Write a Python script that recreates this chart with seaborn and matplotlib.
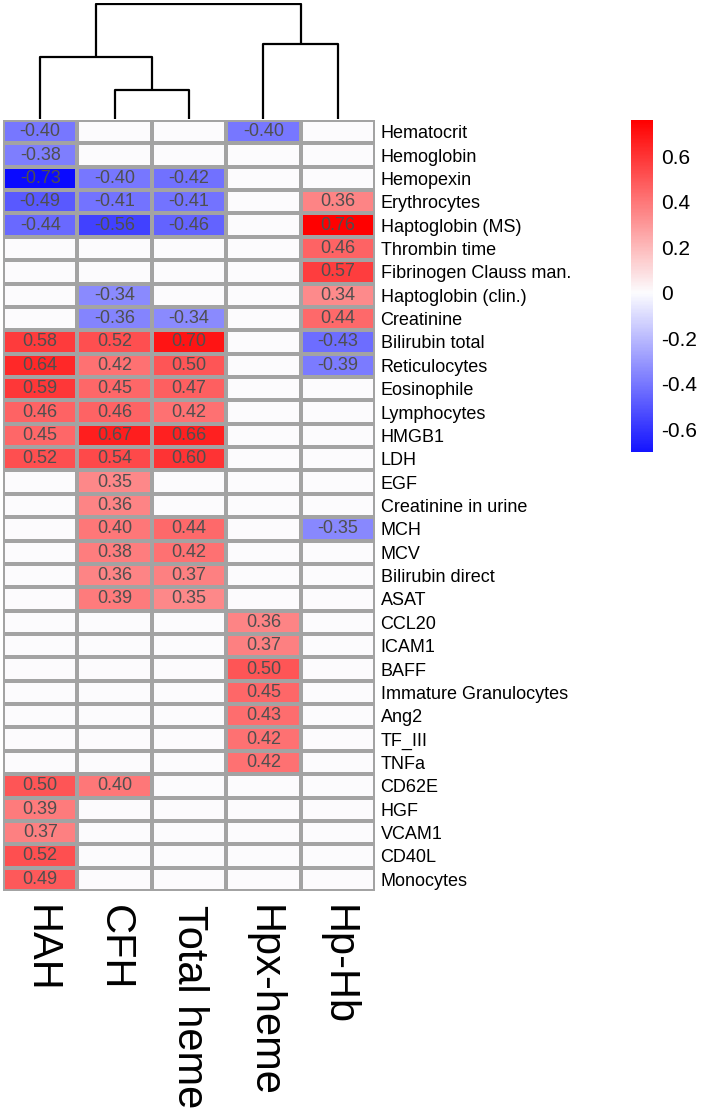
import numpy as np
import pandas as pd
import matplotlib
matplotlib.use("Agg")
import matplotlib.pyplot as plt
from matplotlib.colors import LinearSegmentedColormap
import seaborn as sns

# ---------------- data ----------------
columns = ["HAH", "CFH", "Total heme", "Hpx-heme", "Hp-Hb"]
rows = ["Hematocrit", "Hemoglobin", "Hemopexin", "Erythrocytes", "Haptoglobin (MS)",
        "Thrombin time", "Fibrinogen Clauss man.", "Haptoglobin (clin.)", "Creatinine",
        "Bilirubin total", "Reticulocytes", "Eosinophile", "Lymphocytes", "HMGB1", "LDH",
        "EGF", "Creatinine in urine", "MCH", "MCV", "Bilirubin direct", "ASAT",
        "CCL20", "ICAM1", "BAFF", "Immature Granulocytes", "Ang2", "TF_III", "TNFa",
        "CD62E", "HGF", "VCAM1", "CD40L", "Monocytes"]
N = None
hah = [-0.40, -0.38, -0.73, -0.49, -0.44, N, N, N, N, 0.58, 0.64, 0.59, 0.46, 0.45, 0.52,
       N, N, N, N, N, N, N, N, N, N, N, N, N, 0.50, 0.39, 0.37, 0.52, 0.49]
cfh = [N, N, -0.40, -0.41, -0.56, N, N, -0.34, -0.36, 0.52, 0.42, 0.45, 0.46, 0.67, 0.54,
       0.35, 0.36, 0.40, 0.38, 0.36, 0.39, N, N, N, N, N, N, N, 0.40, N, N, N, N]
total_heme = [N, N, -0.42, -0.41, -0.46, N, N, N, -0.34, 0.70, 0.50, 0.47, 0.42, 0.66, 0.60,
              N, N, 0.44, 0.42, 0.37, 0.35, N, N, N, N, N, N, N, N, N, N, N, N]
hpx_heme = [-0.40, N, N, N, N, N, N, N, N, N, N, N, N, N, N,
            N, N, N, N, N, N, 0.36, 0.37, 0.50, 0.45, 0.43, 0.42, 0.42, N, N, N, N, N]
hp_hb = [N, N, N, 0.36, 0.76, 0.46, 0.57, 0.34, 0.44, -0.43, -0.39, N, N, N, N,
         N, N, -0.35, N, N, N, N, N, N, N, N, N, N, N, N, N, N, N]

# column dendrogram (leaf indices follow `columns`), merge heights
link_left = [1, 0, 3, 6]
link_right = [2, 5, 4, 7]
link_height = [29, 61, 74, 114]

cbar_ticks = [0.6, 0.4, 0.2, 0.0, -0.2, -0.4, -0.6]
cbar_ticklabels = ["0.6", "0.4", "0.2", "0", "-0.2", "-0.4", "-0.6"]

# ---------------- build table ----------------
df = pd.DataFrame({c: np.array(v, dtype=float)
                   for c, v in zip(columns, [hah, cfh, total_heme, hpx_heme, hp_hb])})
df.index = rows
annot = df.map(lambda v: "" if pd.isna(v) else f"{v:.2f}")
vals = df.fillna(0.0)

plt.rcParams["font.family"] = ["Liberation Sans", "DejaVu Sans"]

W, H = 702, 1108
fig = plt.figure(figsize=(W / 100, H / 100), dpi=100)

def rect(x0, y0, x1, y1):
    return [x0 / W, 1 - y1 / H, (x1 - x0) / W, (y1 - y0) / H]

ax_hm = fig.add_axes(rect(3, 120, 375, 891))
ax_dg = fig.add_axes(rect(3, 3, 375, 119))
ax_cb = fig.add_axes(rect(631, 120, 653, 452))

cmap = LinearSegmentedColormap.from_list("bwr2", ["#0000FF", "#FCFCFE", "#FF0000"])

sns.heatmap(vals, ax=ax_hm, cmap=cmap, vmin=-0.76, vmax=0.76, center=0,
            annot=annot.values, fmt="", annot_kws={"fontsize": 13, "color": "#4f4f4f"},
            linewidths=1.6, linecolor="#A3A3A3", cbar_ax=ax_cb,
            cbar_kws={"ticks": cbar_ticks})
ax_hm.set_xlabel("")
ax_hm.set_ylabel("")
ax_hm.yaxis.tick_right()
ax_hm.set_yticks(np.arange(len(rows)) + 0.5)
ax_hm.set_yticklabels(rows, rotation=0, fontsize=13, ha="left")
ax_hm.set_xticks(np.arange(len(columns)) + 0.5)
ax_hm.set_xticklabels(columns, rotation=-90, fontsize=30, va="top", ha="center")
ax_hm.tick_params(axis="both", length=0, pad=4)
ax_hm.tick_params(axis="x", pad=10)

# colorbar
cb = ax_hm.collections[0].colorbar
cb.outline.set_visible(False)
cb.set_ticks(cbar_ticks)
cb.set_ticklabels(cbar_ticklabels)
ax_cb.set_ylim(-0.70, 0.76)
ax_cb.tick_params(length=0, labelsize=15, pad=6)

# dendrogram
pos = {i: (i + 0.5, 0.0) for i in range(len(columns))}
for k, (a, b, h) in enumerate(zip(link_left, link_right, link_height)):
    xa, ha = pos[a]
    xb, hb = pos[b]
    ax_dg.plot([xa, xa, xb, xb], [ha, h, h, hb], color="black", lw=1.6,
               solid_capstyle="butt")
    pos[len(columns) + k] = ((xa + xb) / 2, h)
ax_dg.set_xlim(0, len(columns))
ax_dg.set_ylim(0, 115)
ax_dg.axis("off")

fig.savefig("out.png", dpi=100)
